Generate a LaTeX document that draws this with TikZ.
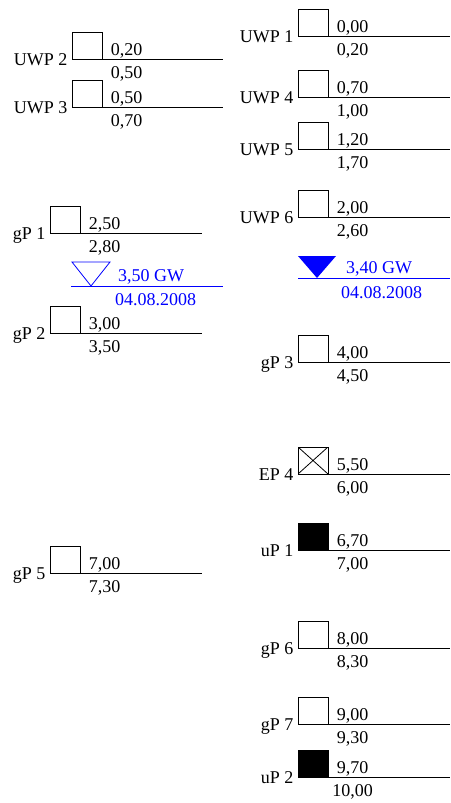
\documentclass[tikz,border=0pt]{standalone}
\usepackage{fontspec}
\setmainfont{Liberation Serif}
\usetikzlibrary{calc}
\definecolor{gwblue}{RGB}{0,0,255}
\tikzset{
  soilbox/.style={draw=black, line width=0.8pt, anchor=south west, minimum width=30pt, minimum height=27pt, inner sep=0pt, outer sep=0pt},
  openbox/.style={},
  fullbox/.style={fill=black},
  crossbox/.style={path picture={\draw[line width=0.8pt] (path picture bounding box.south west) -- (path picture bounding box.north east) (path picture bounding box.north west) -- (path picture bounding box.south east);}},
  layerline/.style={draw=black, line width=0.8pt},
  gwline/.style={draw=gwblue, line width=0.8pt},
  lab/.style={font=\fontsize{18}{20}\selectfont, inner sep=0pt, anchor=base east},
  val/.style={font=\fontsize{18}{20}\selectfont, inner sep=0pt, anchor=base},
  gwtext/.style={font=\fontsize{18}{20}\selectfont, inner sep=0pt, anchor=base, text=gwblue},
}
\newcommand{\layerentry}[8]{%
  \node[soilbox,#8] (box#1) at (#2,#3) {};
  \coordinate (end#1) at (#4,#3);
  \draw[layerline] (box#1.south west) -- (end#1);
  \node[lab] (lab#1) at ($(box#1.south west)+(-4.5,6.5)$) {#5};
  \node[val] (top#1) at ($(box#1.south east)+(24.5,-4)$) {#6};
  \node[val] (bot#1) at ($(box#1.south east)+(24.5,19.5)$) {#7};
}
\begin{document}
\begin{tikzpicture}[x=1pt,y=-1pt]
\useasboundingbox (0,0) rectangle (450,803);
% left column
\layerentry{L1}{72}{59}{223}{UWP 2}{0,20}{0,50}{openbox}
\layerentry{L2}{72}{107}{223}{UWP 3}{0,50}{0,70}{openbox}
\layerentry{L3}{50}{233}{202}{gP 1}{2,50}{2,80}{openbox}
\layerentry{L4}{50}{333}{202}{gP 2}{3,00}{3,50}{openbox}
\layerentry{L5}{50}{573}{202}{gP 5}{7,00}{7,30}{openbox}
% right column
\layerentry{R1}{298}{36}{450}{UWP 1}{0,00}{0,20}{openbox}
\layerentry{R2}{298}{97}{450}{UWP 4}{0,70}{1,00}{openbox}
\layerentry{R3}{298}{149}{450}{UWP 5}{1,20}{1,70}{openbox}
\layerentry{R4}{298}{217}{450}{UWP 6}{2,00}{2,60}{openbox}
\layerentry{R5}{298}{362}{450}{gP 3}{4,00}{4,50}{openbox}
\layerentry{R6}{298}{474}{450}{EP 4}{5,50}{6,00}{crossbox}
\layerentry{R7}{298}{550}{450}{uP 1}{6,70}{7,00}{fullbox}
\layerentry{R8}{298}{648}{450}{gP 6}{8,00}{8,30}{openbox}
\layerentry{R9}{298}{724}{450}{gP 7}{9,00}{9,30}{openbox}
\layerentry{R10}{298}{777}{450}{uP 2}{9,70}{10,00}{fullbox}
% groundwater left
\coordinate (gwLs) at (71,286);
\coordinate (gwLe) at (223,286);
\draw[gwline] (gwLs) -- (gwLe);
\coordinate (triLa) at (72,262);
\coordinate (triLb) at (110,262);
\coordinate (triLc) at (91,286);
\draw[gwline] (triLa) -- (triLb) -- (triLc) -- cycle;
\node[gwtext] (gwLt) at (151,281) {3,50 GW};
\node[gwtext] (gwLd) at (155.5,305) {04.08.2008};
% groundwater right
\coordinate (gwRs) at (298,278);
\coordinate (gwRe) at (450,278);
\draw[gwline] (gwRs) -- (gwRe);
\coordinate (triRa) at (298,256);
\coordinate (triRb) at (336,256);
\coordinate (triRc) at (317,278);
\fill[gwblue] (triRa) -- (triRb) -- (triRc) -- cycle;
\node[gwtext] (gwRt) at (379,273) {3,40 GW};
\node[gwtext] (gwRd) at (381.5,298) {04.08.2008};
\end{tikzpicture}
\end{document}
